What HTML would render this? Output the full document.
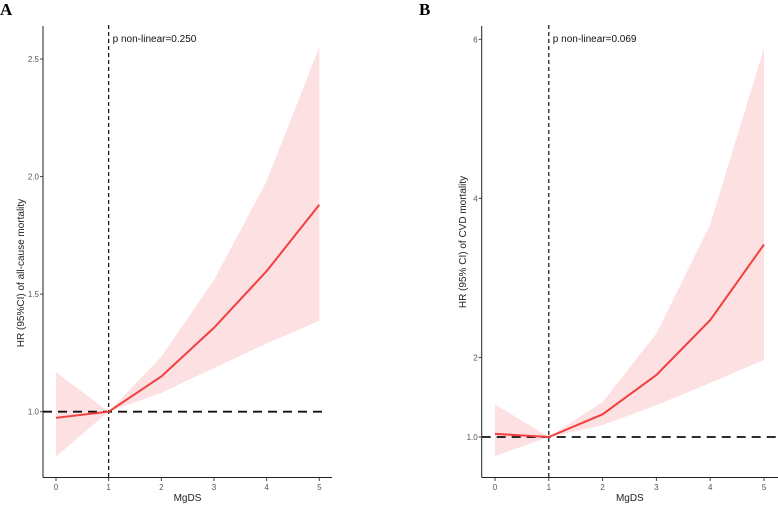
<!DOCTYPE html>
<html><head><meta charset="utf-8"><style>
body{margin:0;background:#fff}
svg text{font-family:"Liberation Sans",sans-serif}
</style></head><body>
<svg id="c" width="778" height="503" viewBox="0 0 778 503" xmlns="http://www.w3.org/2000/svg"></svg>
<script>
const xCats=[0,1,2,3,4,5];
const aFit=[0.974,1.0,1.15,1.357,1.598,1.88];
const aUpper=[1.168,1.0,1.234,1.56,1.98,2.55];
const aLower=[0.81,1.0,1.08,1.186,1.29,1.387];
const aTicks=[1.0,1.5,2.0,2.5];
const aTickLabels=["1.0","1.5","2.0","2.5"];
const bFit=[1.04,1.0,1.285,1.78,2.47,3.42];
const bUpper=[1.41,1.0,1.44,2.30,3.67,5.89];
const bLower=[0.76,1.0,1.15,1.40,1.68,1.97];
const bTicks=[1,2,4,6];
const bTickLabels=["1.0","2","4","6"];
const xTickLabels=["0","1","2","3","4","5"];

const svg=document.getElementById('c');
const NS='http://www.w3.org/2000/svg';
function mk(tag,attrs,parent){const e=document.createElementNS(NS,tag);for(const k in attrs)e.setAttribute(k,attrs[k]);(parent||svg).appendChild(e);return e;}

function panel(cfg){
  const g=mk('g',{});
  
  
  const X=v=>cfg.x0+(v-0)*(cfg.x5-cfg.x0)/5;
  const Y=v=>cfg.yA+(v-cfg.vA)*(cfg.yB-cfg.yA)/(cfg.vB-cfg.vA);
  // band
  let d='M'+xCats.map((c,i)=>X(c)+','+Y(cfg.up[i])).join('L')+'L'+xCats.slice().reverse().map((c,j)=>{const i=xCats.length-1-j;return X(c)+','+Y(cfg.lo[i]);}).join('L')+'Z';
  const band=mk('path',{d:d,fill:'#fde0e1',stroke:'none'},g);
  
  
  // ref hline
  const hl=mk('line',{x1:cfg.axX,x2:cfg.hEnd,y1:Y(1),y2:Y(1),stroke:'#111','stroke-width':1.8,'stroke-dasharray':'9,6'},g);
  
  
  // vline
  const vl=mk('line',{x1:X(1),x2:X(1),y1:25,y2:477,stroke:'#111','stroke-width':1.2,'stroke-dasharray':'4,3'},g);
  
  
  // fit
  const fit=mk('polyline',{points:xCats.map((c,i)=>X(c)+','+Y(cfg.fit[i])).join(' '),fill:'none',stroke:'#f23f3f','stroke-width':2},g);
  
  
  // axes
  const ya=mk('line',{x1:cfg.axX,x2:cfg.axX,y1:26,y2:477.5,stroke:'#222','stroke-width':1},g);
  
  
  const xa=mk('line',{x1:cfg.axX,x2:cfg.xEnd,y1:477.5,y2:477.5,stroke:'#222','stroke-width':1},g);
  
  
  cfg.ticks.forEach((t,i)=>{
    mk('line',{x1:cfg.axX-3,x2:cfg.axX,y1:Y(t),y2:Y(t),stroke:'#444'},g);
    const tx=mk('text',{x:cfg.axX-4,y:Y(t)+3,'text-anchor':'end','font-size':8,fill:'#555'},g);
    tx.textContent=cfg.tl[i];
    
    
  });
  xCats.forEach((c,i)=>{
    mk('line',{x1:X(c),x2:X(c),y1:477.5,y2:481,stroke:'#444'},g);
    const tx=mk('text',{x:X(c),y:490,'text-anchor':'middle','font-size':8,fill:'#555'},g);
    tx.textContent=xTickLabels[i];
    
    
  });
  const xt=mk('text',{x:(cfg.axX+cfg.xEnd)/2,y:501,'text-anchor':'middle','font-size':10,fill:'#222'},g);
  xt.textContent='MgDS';
  
  
  const yt=mk('text',{x:0,y:0,'text-anchor':'middle','font-size':10,fill:'#222',transform:'translate('+cfg.ytX+','+cfg.ytY+') rotate(-90)'},g);
  yt.textContent=cfg.ytitle;
  
  
  const an=mk('text',{x:X(1)+4,y:42,'font-size':10,fill:'#111'},g);
  an.textContent=cfg.ann;
  
  
  const pl=mk('text',{x:cfg.lblX,y:15,'font-size':17,'font-weight':'bold','font-family':'Liberation Serif, serif',fill:'#000'},g);
  pl.setAttribute('style','font-family:"Liberation Serif",serif');
  pl.textContent=cfg.label;
  
  
}
panel({name:'panel-a',x0:56,x5:319.3,axX:43,xEnd:332,hEnd:328,vA:1.0,yA:411.7,vB:2.5,yB:59,fit:aFit,up:aUpper,lo:aLower,ticks:aTicks,tl:aTickLabels,ytitle:'HR (95%CI) of all-cause mortality',ytX:24,ytY:273,ann:'p non-linear=0.250',label:'A',lblX:0});
panel({name:'panel-b',x0:495,x5:764,axX:481.7,xEnd:778,hEnd:778,vA:1.0,yA:437,vB:6,yB:39.3,fit:bFit,up:bUpper,lo:bLower,ticks:bTicks,tl:bTickLabels,ytitle:'HR (95% CI) of CVD mortality',ytX:466,ytY:242,ann:'p non-linear=0.069',label:'B',lblX:419});
</script>
</body></html>
